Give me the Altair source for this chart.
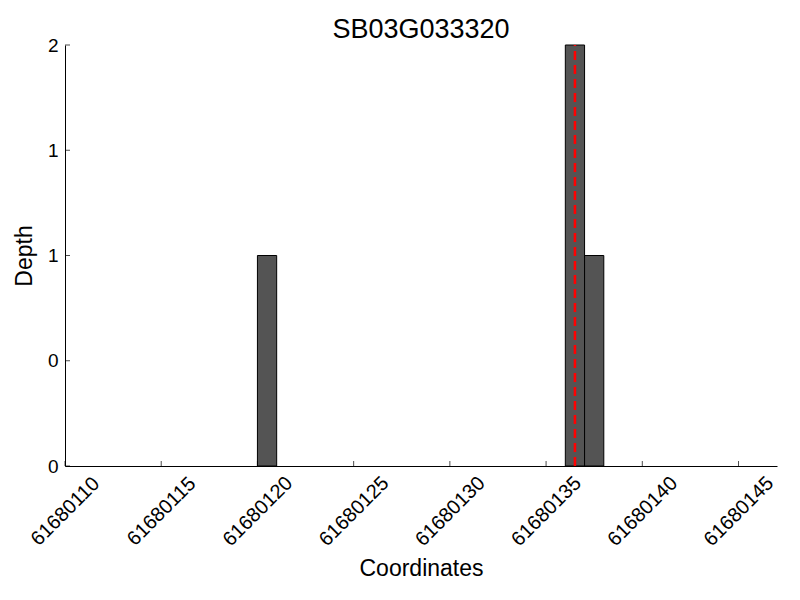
import altair as alt
import pandas as pd

# data
bar_start = [61680120, 61680136, 61680137]
bar_depth = [1, 2, 1]
marker_pos = [61680136.5]
x_ticks = [61680110, 61680115, 61680120, 61680125, 61680130, 61680135, 61680140, 61680145]
y_ticks = [0, 0.5, 1, 1.5, 2]
x_domain = [61680110, 61680147]
y_domain = [0, 2]

FONT = "Liberation Sans"

bars = pd.DataFrame({
    "start": bar_start,
    "end": [s + 1 for s in bar_start],
    "depth": bar_depth,
})
marker = pd.DataFrame({"pos": marker_pos})
xt = pd.DataFrame({"v": x_ticks})
yt = pd.DataFrame({"v": y_ticks})

xscale = alt.Scale(domain=x_domain, nice=False, zero=False)
yscale = alt.Scale(domain=y_domain, nice=False)

xaxis = alt.Axis(
    title="Coordinates", values=x_ticks, format="d", ticks=False, tickSize=0,
    grid=False, labelAngle=-45, labelAlign="center", labelBaseline="middle",
    labelPadding=45, labelFontSize=20, labelFont=FONT, labelColor="black",
    titleFont=FONT, titleFontSize=23, titleFontWeight="normal", titleColor="black",
    titlePadding=8, domainColor="black", labelOverlap=False, labelFlush=False,
)
yaxis = alt.Axis(
    title="Depth", values=y_ticks, labelExpr="floor(datum.value)", ticks=False,
    tickSize=0, grid=False, labelPadding=7, labelFontSize=19, labelFont=FONT,
    labelColor="black", titleFont=FONT, titleFontSize=23, titleFontWeight="normal",
    titleColor="black", titlePadding=11, domainColor="black", labelOverlap=False,
    labelFlush=False,
)

bar_layer = alt.Chart(bars).mark_rect(
    fill="#545454", stroke="black", strokeWidth=1
).encode(
    x=alt.X("start:Q", scale=xscale, axis=xaxis),
    x2="end:Q",
    y=alt.Y("depth:Q", scale=yscale, axis=yaxis),
    y2=alt.datum(0),
)

rule_layer = alt.Chart(marker).mark_rule(
    color="#ff0000", strokeWidth=2.5, strokeDash=[9, 5]
).encode(
    x=alt.X("pos:Q", scale=xscale),
    y=alt.datum(0),
    y2=alt.datum(2),
)

xtick_layer = alt.Chart(xt).mark_tick(
    orient="vertical", size=5, thickness=1, color="black", yOffset=-2.5
).encode(
    x=alt.X("v:Q", scale=xscale),
    y=alt.datum(0),
)

ytick_layer = alt.Chart(yt).mark_tick(
    orient="horizontal", size=5, thickness=1, color="black", xOffset=2.5
).encode(
    y=alt.Y("v:Q", scale=yscale),
    x=alt.datum(x_domain[0]),
)

chart = alt.layer(bar_layer, rule_layer, xtick_layer, ytick_layer).properties(
    width=712,
    height=421,
    background="white",
    title=alt.TitleParams(
        "SB03G033320", font=FONT, fontSize=27, fontWeight="normal",
        color="black", anchor="middle", offset=-8,
    ),
    autosize=alt.AutoSizeParams(type="none"),
    padding={"left": 57, "top": 37, "right": 15, "bottom": 126},
).configure_view(stroke="transparent", strokeWidth=0)

chart.save("out.html", embed_options={"renderer": "svg", "actions": False})
